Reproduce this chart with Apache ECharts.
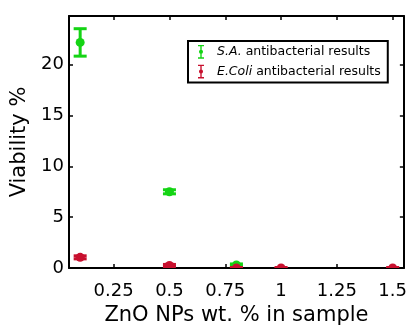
<!DOCTYPE html>
<html><head><meta charset="utf-8">
<script src="https://cdn.jsdelivr.net/npm/echarts@6/dist/echarts.min.js"></script>
<style>html,body{margin:0;padding:0;background:#fff}#c{width:410px;height:331px}</style>
</head><body><div id="c"></div>
<script>
const xTicks = [0.25, 0.5, 0.75, 1, 1.25, 1.5];
const yTicks = [0, 5, 10, 15, 20];
const conc = [0.1, 0.5, 0.8, 1.0, 1.5];
const saName = 'S.A. antibacterial results';
const saX = [0.1, 0.5, 0.8];
const saMean = [22.2, 7.5, 0.3];
const saErr = [1.35, 0.2, 0.1];
const ecName = 'E.Coli antibacterial results';
const ecMean = [1.05, 0.25, 0.0, 0.0, 0.0];
const ecErr = [0.15, 0.1, 0.05, 0.05, 0.05];

const GREEN = '#14d414';
const RED = '#c8102e';
const FONT = 'DejaVu Sans, Verdana, sans-serif';

function errItem(color) {
  return function (params, api) {
    const x = api.value(0), y = api.value(1), e = api.value(2);
    const p = api.coord([x, y]);
    const t = api.coord([x, y + e]);
    const b = api.coord([x, y - e]);
    const hw = 6.5;
    const st = {stroke: color, lineWidth: 3};
    return {type: 'group', children: [
      {type: 'line', shape: {x1: p[0], y1: t[1], x2: p[0], y2: b[1]}, style: st},
      {type: 'line', shape: {x1: p[0]-hw, y1: t[1], x2: p[0]+hw, y2: t[1]}, style: st},
      {type: 'line', shape: {x1: p[0]-hw, y1: b[1], x2: p[0]+hw, y2: b[1]}, style: st},
      {type: 'circle', shape: {cx: p[0], cy: p[1], r: 4.5}, style: {fill: color}}
    ]};
  };
}

const iconPath = 'path://M0,0h7v1.6h-7z M2.7,0h1.6v16h-1.6z M0,14.4h7v1.6h-7z M3.5,5.6a2.4,2.4 0 1,1 0,4.8a2.4,2.4 0 1,1 0,-4.8z';

const xMin = 0.05, xMax = 1.55, yMin = 0, yMax = 24.8;
const axisLineStyle = {color: '#000', width: 2};
const tickStyle = {show: true, inside: true, length: 4, lineStyle: {color: '#000', width: 1.5}};

const chart = echarts.init(document.getElementById('c'));
chart.setOption({
  animation: false,
  grid: {left: 69, right: 6, top: 16, bottom: 63, containLabel: false},
  legend: {
    left: 188, top: 41,
    orient: 'vertical',
    padding: [4, 7, 4, 10],
    itemGap: 6,
    itemWidth: 6, itemHeight: 14,
    borderColor: '#000', borderWidth: 2,
    backgroundColor: '#fff',
    data: [
      {name: saName, icon: iconPath, itemStyle: {color: GREEN}},
      {name: ecName, icon: iconPath, itemStyle: {color: RED}}
    ],
    formatter: function (n) {
      const parts = n.split(' ');
      return '{i|' + parts[0] + '} ' + parts.slice(1).join(' ');
    },
    textStyle: {fontFamily: FONT, fontSize: 12.5, color: '#000', padding: [0, 0, 0, 8],
      rich: {i: {fontFamily: FONT, fontSize: 12.5, fontStyle: 'italic', color: '#000'}}}
  },
  xAxis: [{
    type: 'value', min: xMin, max: xMax, position: 'bottom',
    name: 'ZnO NPs wt. % in sample', nameLocation: 'middle', nameGap: 27,
    nameTextStyle: {fontFamily: FONT, fontSize: 21, color: '#000'},
    axisLine: {show: true, onZero: false, lineStyle: axisLineStyle},
    axisTick: Object.assign({customValues: xTicks}, tickStyle),
    axisLabel: {customValues: xTicks, fontFamily: FONT, fontSize: 18, color: '#000', margin: 14,
      formatter: v => String(v)},
    splitLine: {show: false}
  }, {
    type: 'value', min: xMin, max: xMax, position: 'top',
    axisLine: {show: true, onZero: false, lineStyle: axisLineStyle},
    axisTick: Object.assign({customValues: xTicks}, tickStyle),
    axisLabel: {show: false}, splitLine: {show: false}
  }],
  yAxis: [{
    type: 'value', min: yMin, max: yMax, position: 'left',
    name: 'Viability %', nameLocation: 'middle', nameGap: 31,
    nameTextStyle: {fontFamily: FONT, fontSize: 21, color: '#000'},
    axisLine: {show: true, onZero: false, lineStyle: axisLineStyle},
    axisTick: Object.assign({customValues: yTicks}, tickStyle),
    axisLabel: {customValues: yTicks, fontFamily: FONT, fontSize: 18, color: '#000', margin: 5,
      padding: [4, 0, 0, 0]},
    splitLine: {show: false}
  }, {
    type: 'value', min: yMin, max: yMax, position: 'right',
    axisLine: {show: true, onZero: false, lineStyle: axisLineStyle},
    axisTick: Object.assign({customValues: yTicks}, tickStyle),
    axisLabel: {show: false}, splitLine: {show: false}
  }],
  series: [{
    name: saName, type: 'custom', clip: true,
    itemStyle: {color: GREEN},
    renderItem: errItem(GREEN),
    encode: {x: 0, y: 1},
    data: saX.map((x, i) => [x, saMean[i], saErr[i]])
  }, {
    name: ecName, type: 'custom', clip: true,
    itemStyle: {color: RED},
    renderItem: errItem(RED),
    encode: {x: 0, y: 1},
    data: conc.map((x, i) => [x, ecMean[i], ecErr[i]])
  }]
});
</script></body></html>
